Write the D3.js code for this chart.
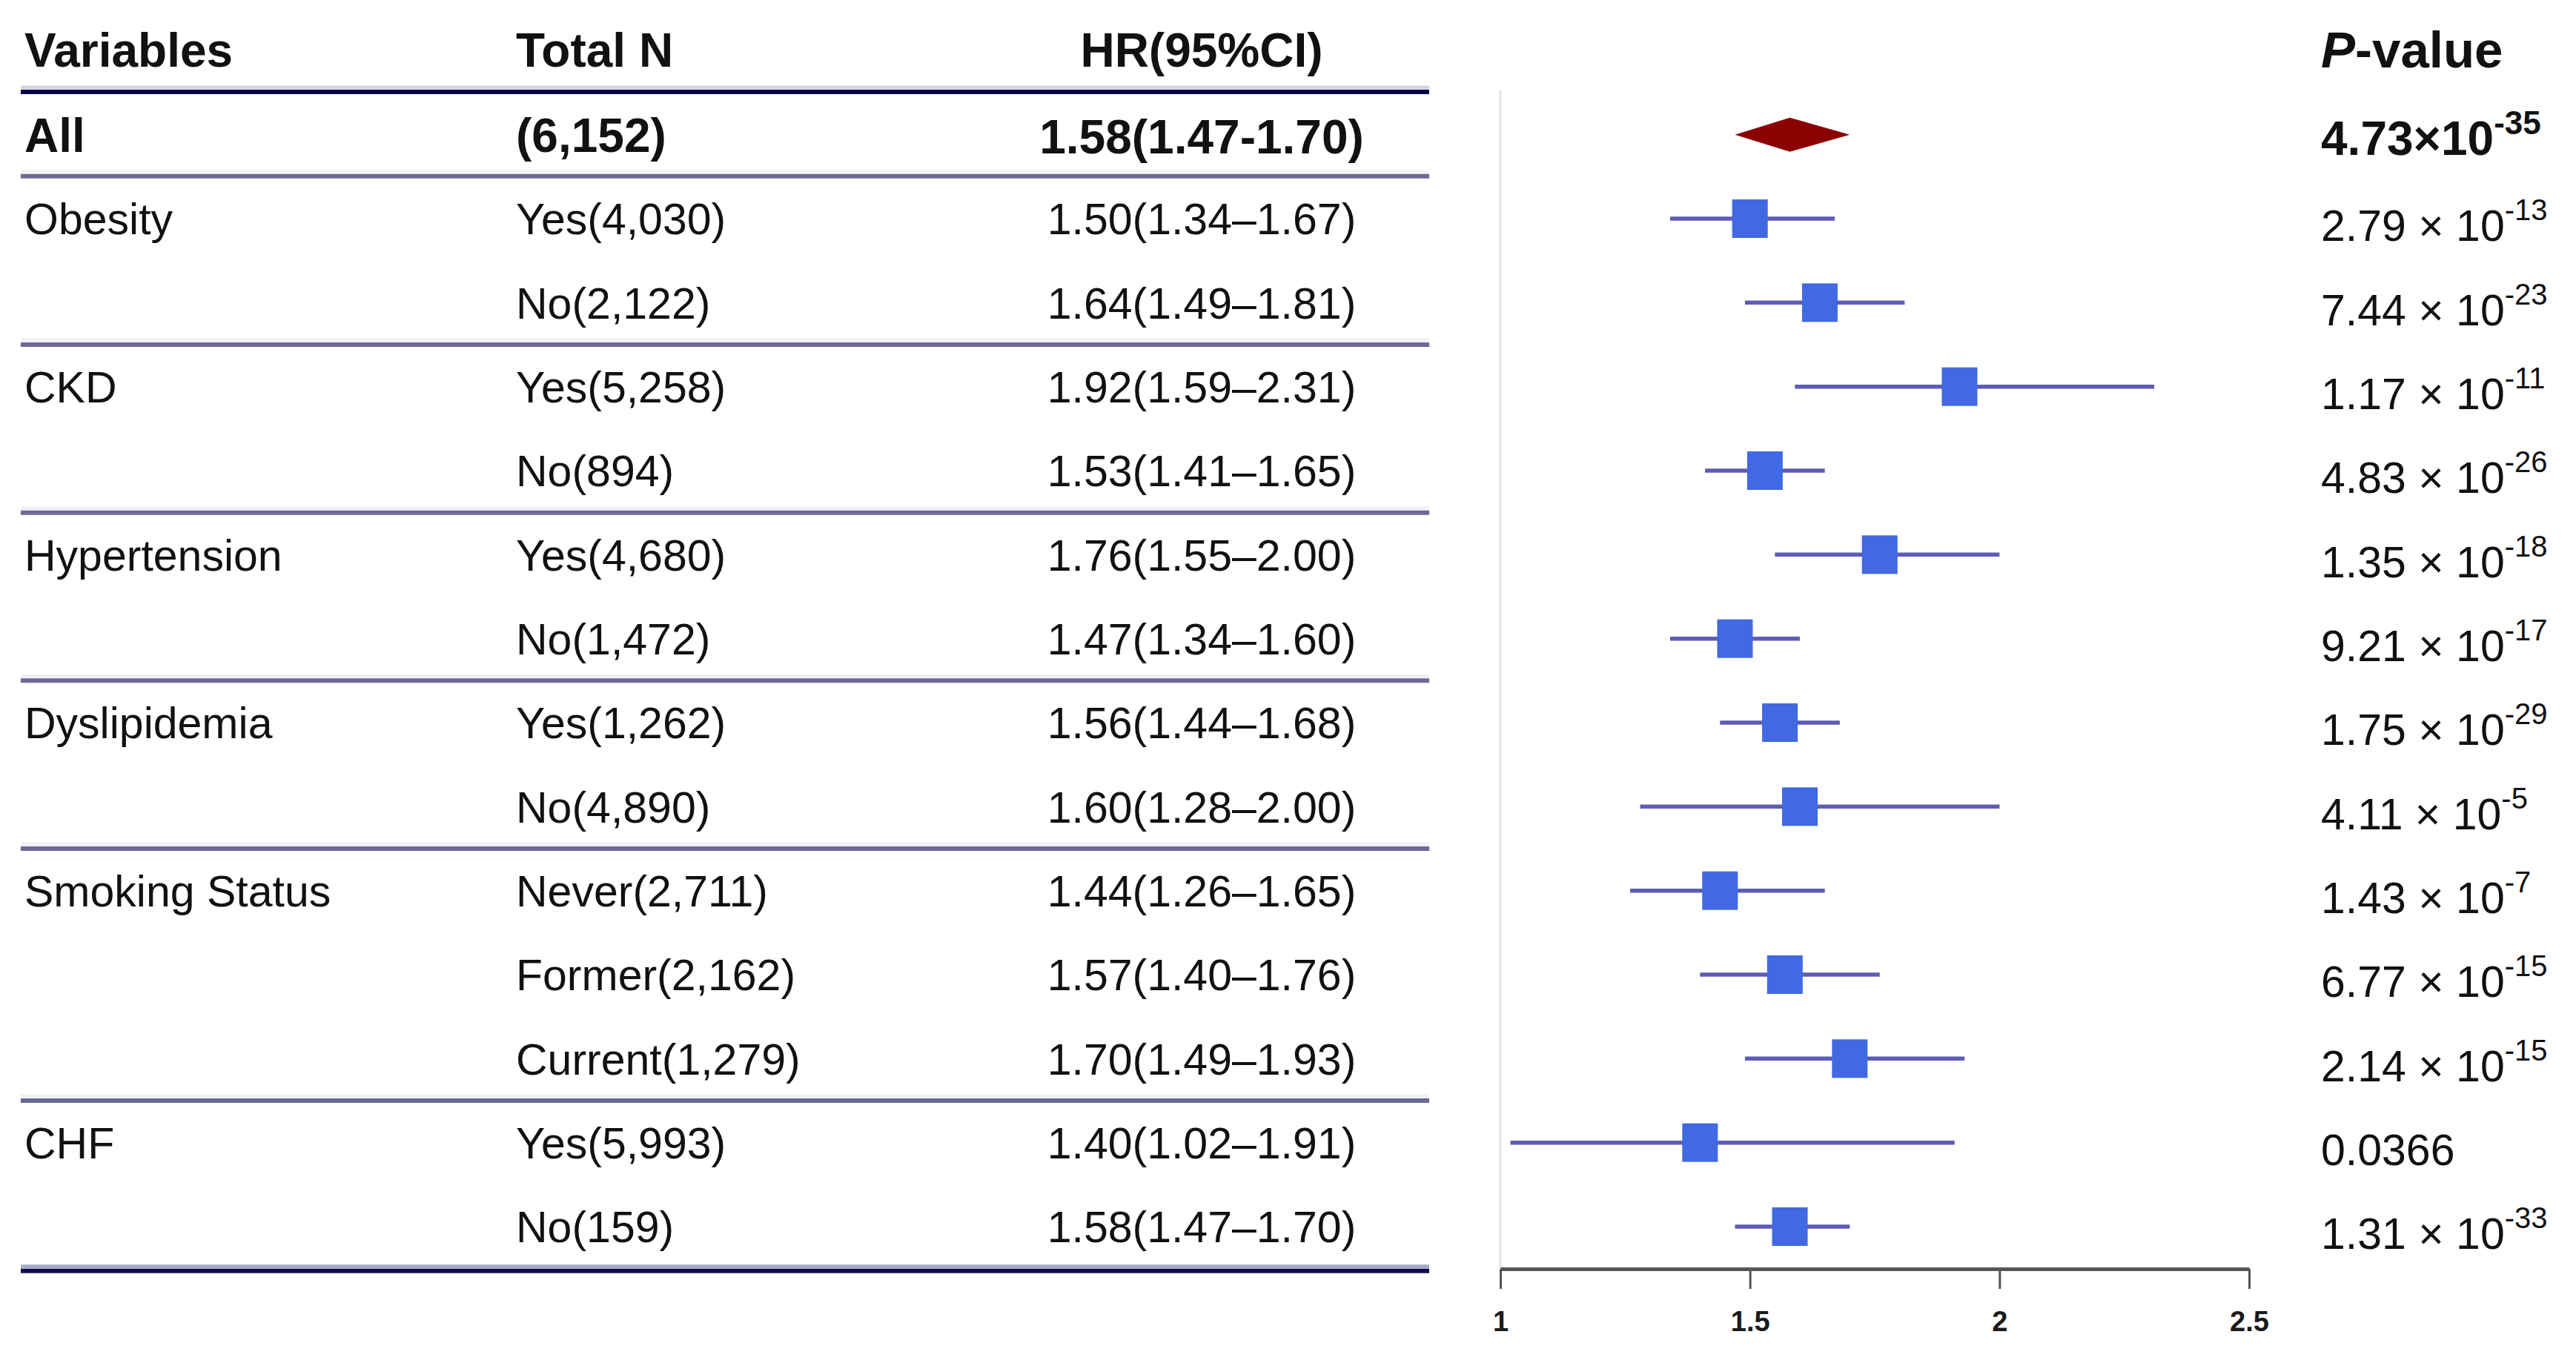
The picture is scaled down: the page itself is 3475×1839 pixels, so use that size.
<!DOCTYPE html>
<html>
<head>
<meta charset="utf-8">
<script src="https://cdn.jsdelivr.net/npm/d3@7"></script>
<style>
  html, body { margin: 0; padding: 0; background: #ffffff; }
  svg { display: block; font-family: "Liberation Sans", Arial, sans-serif; }
</style>
</head>
<body>
<svg id="chart" width="3475" height="1839"></svg>
<script>
// ---------------- data ----------------
const variables = ["All", "Obesity", "", "CKD", "", "Hypertension", "", "Dyslipidemia", "", "Smoking Status", "", "", "CHF", ""];
const totalN = ["(6,152)", "Yes(4,030)", "No(2,122)", "Yes(5,258)", "No(894)", "Yes(4,680)", "No(1,472)",
                "Yes(1,262)", "No(4,890)", "Never(2,711)", "Former(2,162)", "Current(1,279)", "Yes(5,993)", "No(159)"];
const hrValues = [1.58, 1.50, 1.64, 1.92, 1.53, 1.76, 1.47, 1.56, 1.60, 1.44, 1.57, 1.70, 1.40, 1.58];
const ciLower  = [1.47, 1.34, 1.49, 1.59, 1.41, 1.55, 1.34, 1.44, 1.28, 1.26, 1.40, 1.49, 1.02, 1.47];
const ciUpper  = [1.70, 1.67, 1.81, 2.31, 1.65, 2.00, 1.60, 1.68, 2.00, 1.65, 1.76, 1.93, 1.91, 1.70];
const pMantissa = ["4.73", "2.79", "7.44", "1.17", "4.83", "1.35", "9.21", "1.75", "4.11", "1.43", "6.77", "2.14", "0.0366", "1.31"];
const pExponent = ["-35", "-13", "-23", "-11", "-26", "-18", "-17", "-29", "-5", "-7", "-15", "-15", null, "-33"];
const groupEnds = [0, 2, 4, 6, 8, 11];         // separator after these row indices
const xTicks = [1, 1.5, 2, 2.5];
const headers = ["Variables", "Total N", "HR(95%CI)"];

// ---------------- layout ----------------
const svg = d3.select("#chart");
const rowIdx = d3.range(variables.length);
const y = d3.scalePoint().domain(rowIdx).range([181.7, 1655]);
const x = d3.scaleLinear().domain([1, 2.5]).range([2024, 3034]);

const colVarX = 33, colNX = 696, colHRX = 1621, colPX = 3131;
const tableL = 28, tableR = 1928;
const txtColor = "#111111";
const fsBold = 64, fsReg = 59;

// ---------------- table lines ----------------
const lines = svg.append("g");
// header line (double: light + dark)
lines.append("line").attr("x1", tableL).attr("x2", tableR).attr("y1", 118).attr("y2", 118)
  .attr("stroke", "#d2d2e0").attr("stroke-width", 5);
lines.append("line").attr("x1", tableL).attr("x2", tableR).attr("y1", 124).attr("y2", 124)
  .attr("stroke", "#00004a").attr("stroke-width", 6);

// group separators
groupEnds.forEach(i => {
  const yy = (y(i) + y(i + 1)) / 2 + (i === 0 ? -0.5 : 0);
  lines.append("line").attr("x1", tableL).attr("x2", tableR).attr("y1", yy - 6).attr("y2", yy - 6)
    .attr("stroke", "#f1f1f6").attr("stroke-width", 5);
  lines.append("line").attr("x1", tableL).attr("x2", tableR).attr("y1", yy).attr("y2", yy)
    .attr("stroke", "#6a6a94").attr("stroke-width", 6);
});

// bottom line (double)
const yLast = y(rowIdx.length - 1) + (y(1) - y(0)) / 2;
lines.append("line").attr("x1", tableL).attr("x2", tableR).attr("y1", yLast - 3).attr("y2", yLast - 3)
  .attr("stroke", "#a8a8c8").attr("stroke-width", 5);
lines.append("line").attr("x1", tableL).attr("x2", tableR).attr("y1", yLast + 3).attr("y2", yLast + 3)
  .attr("stroke", "#0e0e4e").attr("stroke-width", 6);

// ---------------- headers ----------------
const hdr = svg.append("g").attr("font-weight", "bold").attr("font-size", fsBold).attr("fill", txtColor);
hdr.append("text").attr("x", colVarX).attr("y", 90).text(headers[0]);
hdr.append("text").attr("x", colNX).attr("y", 90).text(headers[1]);
hdr.append("text").attr("x", colHRX).attr("y", 90).attr("text-anchor", "middle").text(headers[2]);
const ph = hdr.append("text").attr("x", colPX).attr("y", 91).attr("font-size", 69);
ph.append("tspan").attr("font-style", "italic").text("P");
ph.append("tspan").text("-value");

// ---------------- table text ----------------
const f2 = d3.format(".2f");
const body = svg.append("g").attr("fill", txtColor);
rowIdx.forEach(i => {
  const bold = i === 0;
  const fs = bold ? fsBold : fsReg;
  const base = y(i) + 0.36 * fs;
  const g = body.append("g").attr("font-size", fs).attr("font-weight", bold ? "bold" : "normal");
  if (variables[i]) g.append("text").attr("x", colVarX).attr("y", base).text(variables[i]);
  g.append("text").attr("x", colNX).attr("y", base).text(totalN[i]);
  const dash = bold ? "-" : "\u2013";
  g.append("text").attr("x", colHRX).attr("y", base + (bold ? 2 : 0)).attr("text-anchor", "middle")
    .text(`${f2(hrValues[i])}(${f2(ciLower[i])}${dash}${f2(ciUpper[i])})`);

  // p-value
  const pBase = y(i) + 0.36 * fs + (bold ? 4 : 9);
  const t = g.append("text").attr("x", colPX).attr("y", pBase);
  if (pExponent[i] === null) {
    t.text(pMantissa[i]);
  } else {
    t.append("tspan").text(bold ? `${pMantissa[i]}\u00d710` : `${pMantissa[i]} \u00d7 10`);
    t.append("tspan").attr("dy", -28).attr("font-size", bold ? 44 : 40).text(pExponent[i]);
  }
});

// ---------------- forest plot ----------------
const plot = svg.append("g");
// reference line at HR = 1
plot.append("line").attr("x1", x(1)).attr("x2", x(1)).attr("y1", 122).attr("y2", 1712)
  .attr("stroke", "#e2e2e2").attr("stroke-width", 3);

// CI lines (subgroups)
const sub = rowIdx.filter(i => i > 0);
plot.selectAll("line.ci").data(sub).join("line").attr("class", "ci")
  .attr("x1", i => x(ciLower[i])).attr("x2", i => x(ciUpper[i]))
  .attr("y1", i => y(i)).attr("y2", i => y(i))
  .attr("stroke", "#5d5db4").attr("stroke-width", 5.5);

// squares
const sq = 48;
plot.selectAll("rect.pt").data(sub).join("rect").attr("class", "pt")
  .attr("x", i => x(hrValues[i]) - sq / 2).attr("y", i => y(i) - 26)
  .attr("width", sq).attr("height", 52)
  .attr("fill", "#4169e1");

// diamond for overall
plot.append("path")
  .attr("d", () => {
    const cy = y(0);
    return `M${x(ciLower[0])},${cy} L${x(hrValues[0])},${cy - 23} L${x(ciUpper[0])},${cy} L${x(hrValues[0])},${cy + 23} Z`;
  })
  .attr("fill", "#8b0000");

// axis
const axis = d3.axisBottom(x).tickValues(xTicks).tickFormat(d3.format("")).tickSize(27).tickSizeOuter(0).tickPadding(30);
const ax = svg.append("g").attr("transform", "translate(0,1712)").call(axis);
ax.select(".domain").attr("stroke", "#555555").attr("stroke-width", 5);
ax.selectAll(".tick line").attr("stroke", "#555555").attr("stroke-width", 3);
ax.selectAll(".tick text").attr("fill", "#1a1a1a").attr("font-size", 38).attr("font-weight", "bold")
  .attr("font-family", "'Liberation Sans', Arial, sans-serif");
</script>
</body>
</html>
